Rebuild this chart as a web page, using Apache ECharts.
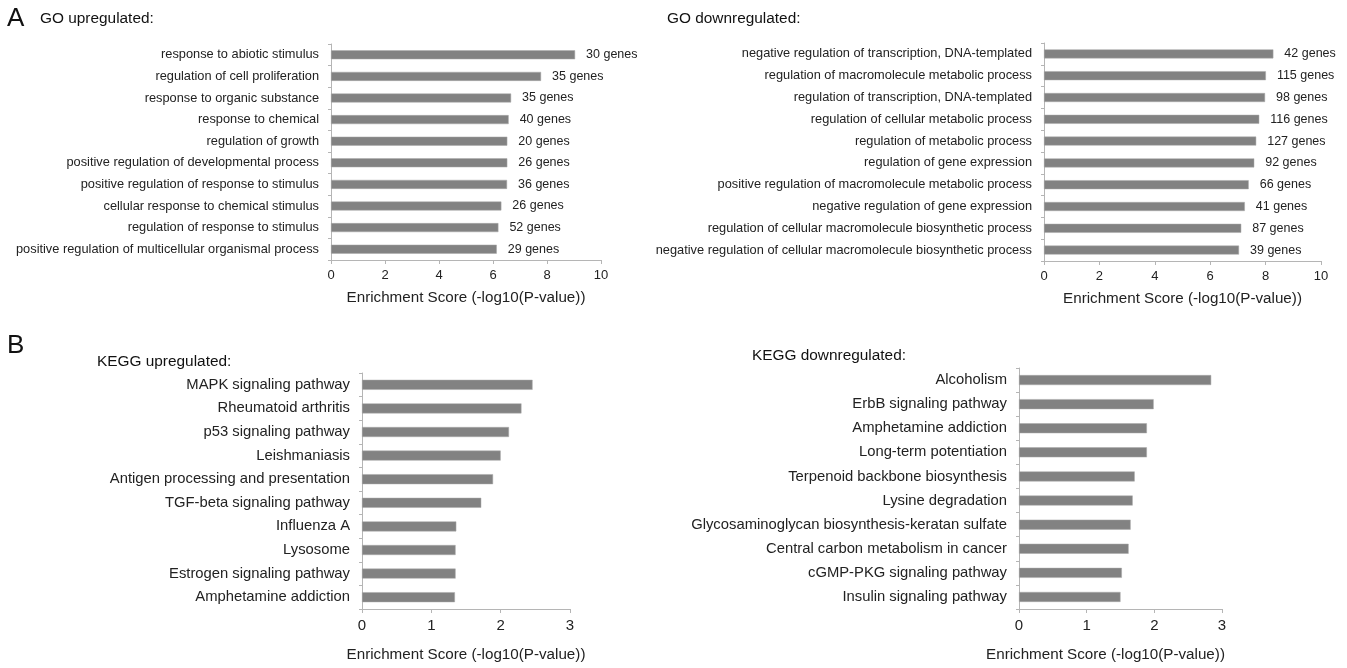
<!DOCTYPE html>
<html>
<head>
<meta charset="utf-8">
<title>Enrichment</title>
<script src="https://cdn.jsdelivr.net/npm/echarts@6/dist/echarts.min.js"></script>
<style>
  html, body { margin: 0; padding: 0; background: #fff; }
  #chart { width: 1347px; height: 668px; }
</style>
</head>
<body>
<div id="chart"></div>
<script>
// GO upregulated
var goUpTerms = ['response to abiotic stimulus', 'regulation of cell proliferation', 'response to organic substance',
  'response to chemical', 'regulation of growth', 'positive regulation of developmental process',
  'positive regulation of response to stimulus', 'cellular response to chemical stimulus',
  'regulation of response to stimulus', 'positive regulation of multicellular organismal process']
var goUpScore = [9.04, 7.78, 6.67, 6.58, 6.53, 6.53, 6.52, 6.31, 6.20, 6.14]
var goUpGenes = [30, 35, 35, 40, 20, 26, 36, 26, 52, 29]

// GO downregulated
var goDownTerms = ['negative regulation of transcription, DNA-templated', 'regulation of macromolecule metabolic process',
  'regulation of transcription, DNA-templated', 'regulation of cellular metabolic process',
  'regulation of metabolic process', 'regulation of gene expression',
  'positive regulation of macromolecule metabolic process', 'negative regulation of gene expression',
  'regulation of cellular macromolecule biosynthetic process', 'negative regulation of cellular macromolecule biosynthetic process']
var goDownScore = [8.28, 8.01, 7.98, 7.77, 7.66, 7.59, 7.39, 7.25, 7.12, 7.04]
var goDownGenes = [42, 115, 98, 116, 127, 92, 66, 41, 87, 39]

// KEGG upregulated
var keggUpTerms = ['MAPK signaling pathway', 'Rheumatoid arthritis', 'p53 signaling pathway', 'Leishmaniasis',
  'Antigen processing and presentation', 'TGF-beta signaling pathway', 'Influenza A', 'Lysosome',
  'Estrogen signaling pathway', 'Amphetamine addiction']
var keggUpScore = [2.46, 2.30, 2.12, 2.00, 1.89, 1.72, 1.36, 1.35, 1.35, 1.34]

// KEGG downregulated
var keggDownTerms = ['Alcoholism', 'ErbB signaling pathway', 'Amphetamine addiction', 'Long-term potentiation',
  'Terpenoid backbone biosynthesis', 'Lysine degradation', 'Glycosaminoglycan biosynthesis-keratan sulfate',
  'Central carbon metabolism in cancer', 'cGMP-PKG signaling pathway', 'Insulin signaling pathway']
var keggDownScore = [2.84, 1.99, 1.89, 1.89, 1.71, 1.68, 1.65, 1.62, 1.52, 1.50]

var goTicks = { max: 10, interval: 2 }
var keggTicks = { max: 3, interval: 1 }

var FONT = 'Liberation Sans, Arial, sans-serif'
var axisColor = '#b5b5b5'
var barColor = '#828282'

var grids = [
  { left: 331, right: 746, top: 44, height: 216 },
  { left: 1044, right: 26, top: 43, height: 218 },
  { left: 362, right: 777, top: 373, height: 236 },
  { left: 1019, right: 125, top: 368, height: 241 }
]

function xAx(idx, ticks, fs, gap, pad) {
  return {
    gridIndex: idx,
    type: 'value',
    min: 0,
    max: ticks.max,
    interval: ticks.interval,
    name: 'Enrichment Score (-log10(P-value))',
    nameLocation: 'middle',
    nameGap: gap,
    nameTextStyle: { fontFamily: FONT, fontSize: 15.2, color: '#222', padding: pad || 0 },
    axisLine: { show: true, lineStyle: { color: axisColor } },
    axisTick: { show: true, length: 4, lineStyle: { color: axisColor } },
    axisLabel: { fontFamily: FONT, fontSize: fs, color: '#222', margin: 9 },
    splitLine: { show: false }
  }
}

function yAx(idx, terms, fs) {
  return {
    gridIndex: idx,
    type: 'category',
    inverse: true,
    data: terms,
    axisLine: { show: true, lineStyle: { color: axisColor } },
    axisTick: { show: true, length: 3, lineStyle: { color: axisColor } },
    axisLabel: { fontFamily: FONT, fontSize: fs, color: '#222', margin: 12 }
  }
}

function bars(idx, scores, genes, bw) {
  var s = {
    type: 'bar',
    xAxisIndex: idx,
    yAxisIndex: idx,
    data: scores,
    barWidth: bw,
    itemStyle: { color: barColor, borderColor: '#a8a8a8', borderWidth: 0.5 },
    silent: true
  }
  if (genes) {
    s.label = {
      show: true,
      position: 'right',
      distance: 11,
      fontFamily: FONT,
      fontSize: 12.5,
      color: '#222',
      formatter: function (p) { return genes[p.dataIndex] + ' genes' }
    }
  }
  return s
}

function txt(x, y, text, size) {
  return { type: 'text', left: x, top: y, style: { text: text, fontFamily: FONT, fontSize: size, fill: '#111' } }
}

var chart = echarts.init(document.getElementById('chart'))
chart.setOption({
  animation: false,
  grid: grids,
  xAxis: [xAx(0, goTicks, 13, 30), xAx(1, goTicks, 13, 30), xAx(2, keggTicks, 15, 38), xAx(3, keggTicks, 15, 38, [0, 30, 0, 0])],
  yAxis: [yAx(0, goUpTerms, 12.8), yAx(1, goDownTerms, 12.8), yAx(2, keggUpTerms, 14.8), yAx(3, keggDownTerms, 14.8)],
  series: [bars(0, goUpScore, goUpGenes, 9), bars(1, goDownScore, goDownGenes, 9), bars(2, keggUpScore, null, 10), bars(3, keggDownScore, null, 10)],
  graphic: [
    txt(7, 6, 'A', 26),
    txt(40, 11, 'GO upregulated:', 15.4),
    txt(667, 11, 'GO downregulated:', 15.4),
    txt(7, 333, 'B', 26),
    txt(97, 354, 'KEGG upregulated:', 15.4),
    txt(752, 348, 'KEGG downregulated:', 15.4)
  ]
})
</script>
</body>
</html>
